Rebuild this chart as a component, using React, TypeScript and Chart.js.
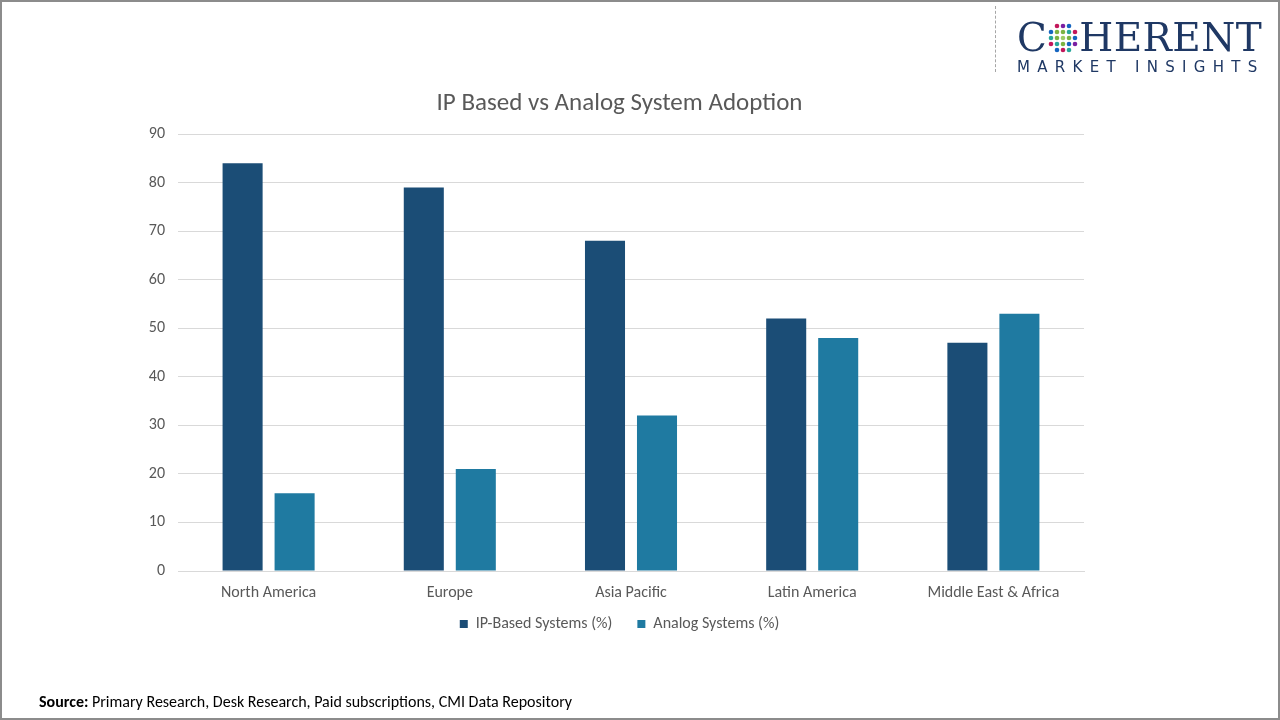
import React, { useEffect, useRef } from "react";
import { Chart, registerables } from "chart.js";

Chart.register(...registerables);

const categories = ["North America", "Europe", "Asia Pacific", "Latin America", "Middle East & Africa"];
const ipBased = [84, 79, 68, 52, 47];
const analog = [16, 21, 32, 48, 53];
const seriesNames = ["IP-Based Systems (%)", "Analog Systems (%)"];
const titleText = "IP Based vs Analog System Adoption";

const FONT = "Carlito, Lato, 'Open Sans', sans-serif";

function Logo() {
  const dotColors = [
    ["", "#c2185b", "#7b1fa2", "#1565c0", ""],
    ["#1565c0", "#7cb342", "#7cb342", "#26a69a", "#c2185b"],
    ["#26a69a", "#7cb342", "#9ccc65", "#7cb342", "#1565c0"],
    ["#c2185b", "#26a69a", "#7cb342", "#1565c0", "#7b1fa2"],
    ["", "#1565c0", "#c2185b", "#26a69a", ""],
  ];
  return (
    <div style={{ position: "absolute", left: 1017, top: 18, width: 260 }}>
      <div style={{ display: "flex", alignItems: "flex-end", fontFamily: "'DejaVu Serif', 'Liberation Serif', serif", color: "#1f3864", fontSize: 39, lineHeight: "39px", letterSpacing: 0.4, whiteSpace: "nowrap" }}>
        <span>C</span>
        <svg width="30" height="30" viewBox="0 0 30 30" style={{ flexShrink: 0, margin: "0 1px 4px 1px" }}>
          {dotColors.map((row, r) =>
            row.map((c, k) => (c ? <circle key={r + "-" + k} cx={3 + k * 6} cy={3 + r * 6} r={2.3} fill={c} /> : null))
          )}
        </svg>
        <span>HERENT</span>
      </div>
      <div style={{ fontFamily: "'DejaVu Sans', sans-serif", color: "#1f3864", fontSize: 15, letterSpacing: 7.3, marginTop: 1, whiteSpace: "nowrap" }}>
        MARKET INSIGHTS
      </div>
    </div>
  );
}

export default function App() {
  const canvasRef = useRef<HTMLCanvasElement>(null);

  useEffect(() => {
    const ctx = canvasRef.current!;
    const chart = new Chart(ctx, {
      type: "bar",
      data: {
        labels: categories,
        datasets: [
          { label: seriesNames[0], data: ipBased, backgroundColor: "#1b4d76", categoryPercentage: 0.574, barPercentage: 0.77 },
          { label: seriesNames[1], data: analog, backgroundColor: "#1f7aa1", categoryPercentage: 0.574, barPercentage: 0.77 },
        ],
      },
      options: {
        responsive: false,
        animation: false,
        maintainAspectRatio: false,
        layout: { padding: { left: 155, right: 196, top: 89, bottom: 78 } },
        plugins: {
          title: {
            display: true,
            text: titleText,
            color: "#595959",
            font: { family: FONT, size: 25, weight: "normal" },
            padding: { top: 0, bottom: 15 },
          },
          legend: {
            position: "bottom",
            labels: {
              color: "#595959",
              font: { family: FONT, size: 16 },
              boxWidth: 8,
              boxHeight: 8,
              padding: 25,
            },
          },
          tooltip: { enabled: false },
        },
        scales: {
          x: {
            grid: { display: false, drawTicks: false },
            border: { display: true, color: "#d9d9d9" },
            ticks: { color: "#595959", font: { family: FONT, size: 16 }, padding: 12 },
            afterFit: (scale: any) => {
              scale.height = 20;
              scale._computeLabelArea = () => undefined;
            },
          },
          y: {
            min: 0,
            max: 90,
            grid: { color: "#d9d9d9", drawTicks: false },
            border: { display: false },
            ticks: { stepSize: 10, color: "#595959", font: { family: FONT, size: 16 }, padding: 13 },
            afterFit: (scale: any) => {
              scale.width = 23;
              scale._computeLabelArea = () => undefined;
            },
          },
        },
      },
    });
    return () => chart.destroy();
  }, []);

  return (
    <div style={{ position: "fixed", left: 0, top: 0, width: 1280, height: 720, background: "#fff", overflow: "hidden" }}>
      <canvas ref={canvasRef} width={1280} height={720} style={{ position: "absolute", left: 0, top: 0, width: 1280, height: 720 }} />
      <div style={{ position: "absolute", left: 995, top: 6, height: 66, borderLeft: "1px dashed #a6a6a6" }} />
      <Logo />
      <div style={{ position: "absolute", left: 39, top: 692, fontFamily: FONT, fontSize: 16, color: "#000" }}>
        <b>Source:</b> Primary Research, Desk Research, Paid subscriptions, CMI Data Repository
      </div>
      <div style={{ position: "absolute", left: 0, top: 0, width: 1280, height: 720, boxSizing: "border-box", border: "2px solid #8c8c8c", pointerEvents: "none" }} />
    </div>
  );
}
